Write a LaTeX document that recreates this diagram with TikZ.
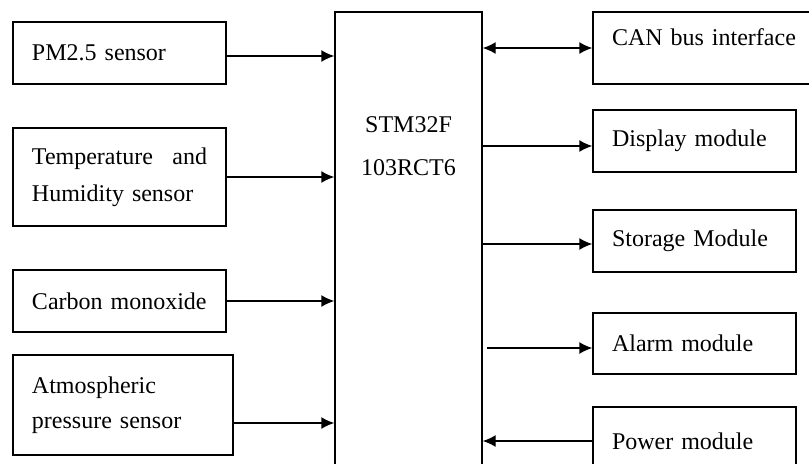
\documentclass[tikz,border=0pt]{standalone}
\usepackage{fontspec}
\setmainfont{Liberation Serif}
\usetikzlibrary{arrows.meta,positioning}

\begin{document}
\begin{tikzpicture}[x=0.5pt,y=-0.5pt,
            font=\fontsize{12}{18.5}\selectfont,
            block/.style={draw,rectangle,line width=0.7pt,inner xsep=9.5pt,align=left},
            sensor/.style={block,text width=87.5pt,minimum height=31pt},
            module/.style={block,text width=82.5pt,minimum height=31pt},
            mcu/.style={draw,rectangle,line width=0.7pt,minimum width=73.5pt,minimum height=234pt},
            link/.style={draw,->,line width=0.7pt},
            >={Latex[length=6.5pt,width=6pt]}
          ]
          \useasboundingbox (0,0) rectangle (809,463);
          \clip (0,0) rectangle (809,463);

          %controller
          \node[mcu] (mcu) at (408.5,246) {};
          \node[align=center,font=\fontsize{12}{21.5}\selectfont] (mcutext) at (408.5,146.5) {STM32F\\103RCT6};

          %sensors
          \node[sensor] (pm) at (119.5,53) {PM2.5 sensor};
          \node[sensor,minimum height=49pt] (temp) at (119.5,177) {Temperature\hfill and\\Humidity sensor};
          \node[sensor] (co) at (119.5,301) {Carbon monoxide};
          \node[sensor,text width=91pt,minimum height=50pt,font=\fontsize{12}{17.5}\selectfont] (atm) at (123,405) {Atmospheric\\pressure sensor};

          %modules
          \node[module,text width=99.5pt,minimum height=36pt,text depth=11pt] (can) at (711.5,48) {CAN bus interface};
          \node[module] (disp) at (694.5,141) {Display module};
          \node[module] (stor) at (694.5,241) {Storage Module};
          \node[module,minimum height=30.5pt] (alarm) at (694.5,343.5) {Alarm module};
          \node[module,minimum height=34pt] (power) at (694.5,441) {Power module};

          \path
          ([yshift=-1.5pt]pm.east) edge[link] ([yshift=-1.5pt]pm.east -| mcu.west)
          (temp) edge[link] (temp -| mcu.west)
          (co) edge[link] (co -| mcu.west)
          ([yshift=-9pt]atm.east) edge[link] ([yshift=-9pt]atm.east -| mcu.west)
          (can.west -| mcu.east) edge[link,<->] (can.west)
          ([yshift=-2.5pt]disp.west -| mcu.east) edge[link] ([yshift=-2.5pt]disp.west)
          ([yshift=-1.5pt]stor.west -| mcu.east) edge[link] ([yshift=-1.5pt]stor.west)
          ([yshift=-2.25pt]alarm.west -| mcu.east) edge[link,shorten <=2pt] ([yshift=-2.25pt]alarm.west)
          (power) edge[link] (power -| mcu.east)
          ;

      \end{tikzpicture}
\end{document}
